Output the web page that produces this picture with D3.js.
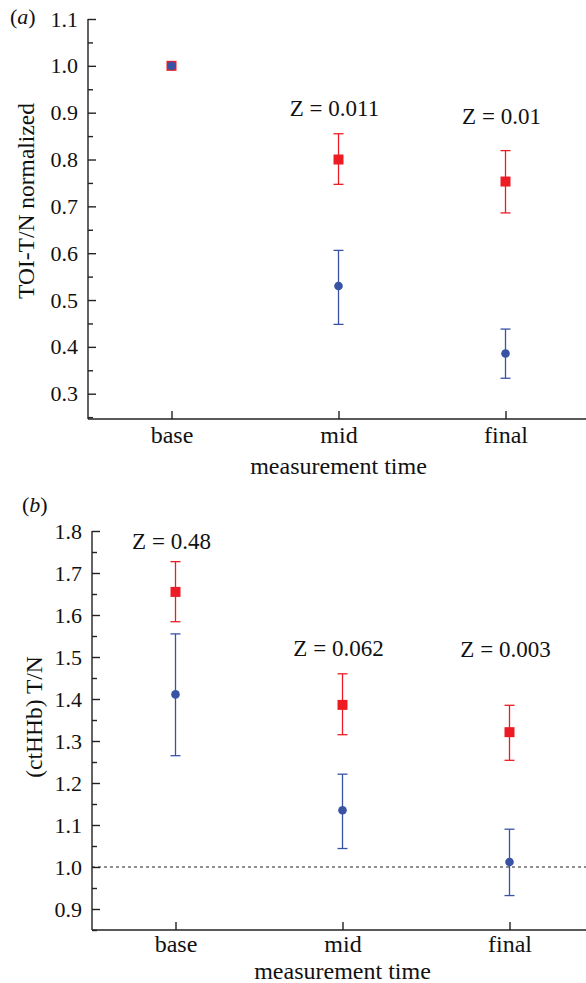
<!DOCTYPE html>
<html>
<head>
<meta charset="utf-8">
<script src="https://cdn.jsdelivr.net/npm/d3@7"></script>
<style>
  body { margin: 0; background: #fff; }
  text { font-family: "Liberation Serif", "Times New Roman", serif; fill: #111; }
</style>
</head>
<body>
<script>
var width = 586,
  height = 983

var categories = ['base', 'mid', 'final']

// panel (a): TOI-T/N normalized
var aRed = [1.0, 0.800, 0.753],
  aRedLo = [1.0, 0.747, 0.686],
  aRedHi = [1.0, 0.855, 0.819]
var aBlue = [1.0, 0.530, 0.386],
  aBlueLo = [1.0, 0.448, 0.333],
  aBlueHi = [1.0, 0.606, 0.438]
var aZ = ['', '0.011', '0.01'],
  aZAt = [null, 0.893, 0.876]
var aTicks = [0.3, 0.4, 0.5, 0.6, 0.7, 0.8, 0.9, 1.0, 1.1]

// panel (b): (ctHHb) T/N
var bRed = [1.655, 1.386, 1.321],
  bRedLo = [1.584, 1.315, 1.254],
  bRedHi = [1.727, 1.460, 1.385]
var bBlue = [1.411, 1.135, 1.012],
  bBlueLo = [1.265, 1.044, 0.932],
  bBlueHi = [1.555, 1.221, 1.090]
var bZ = ['0.48', '0.062', '0.003'],
  bZAt = [1.758, 1.503, 1.499]
var bTicks = [0.9, 1.0, 1.1, 1.2, 1.3, 1.4, 1.5, 1.6, 1.7, 1.8]

var red = '#ed1c24',
  blue = '#3953a4'

var svg = d3.select('body').append('svg')
  .attr('width', width)
  .attr('height', height)

function panel (o) {
  var x = d3.scaleLinear().domain([0.5, 3.5]).range([o.left, o.left + 501])
  var y = d3.scaleLinear().domain(o.domain).range([o.bottom, o.top])
  var g = svg.append('g')

  // minor ticks (inside)
  var minor = d3.range(o.domain[0], o.domain[1] + 1e-9, 0.05)
    .map(function (v) { return Math.round(v * 100) / 100 })
    .filter(function (v) { return v >= o.domain[0] && Math.round(v * 100) % 10 !== 0 })
  g.append('g').attr('transform', 'translate(' + o.left + ',0)')
    .call(d3.axisRight(y).tickValues(minor).tickSize(5).tickFormat(''))
    .call(function (s) { s.select('.domain').remove() })

  var yAxis = g.append('g').attr('transform', 'translate(' + o.left + ',0)')
    .call(d3.axisLeft(y).tickValues(o.ticks).tickSize(-8).tickPadding(10).tickFormat(d3.format('.1f')))
  yAxis.select('.domain').attr('d', 'M0,' + o.top + 'V' + o.bottom)
  yAxis.selectAll('.tick text').style('font-size', '22px')

  var xAxis = g.append('g').attr('transform', 'translate(0,' + o.bottom + ')')
    .call(d3.axisBottom(x).tickValues([1, 2, 3]).tickSize(-8)
      .tickFormat(function (d) { return categories[d - 1] }))
  xAxis.select('.domain').attr('d', 'M' + o.left + ',0H' + width)
  xAxis.selectAll('.tick text').style('font-size', '24px')
    .attr('y', o.tickBase).attr('dy', null)

  g.selectAll('.domain, .tick line').attr('stroke', '#222').attr('stroke-width', 1.4)
  g.selectAll('.tick text').attr('fill', '#111')
    .style('font-family', '"Liberation Serif", serif')

  if (o.refLine != null) {
    g.append('line')
      .attr('x1', o.left).attr('x2', width)
      .attr('y1', y(o.refLine)).attr('y2', y(o.refLine))
      .attr('stroke', '#222').attr('stroke-width', 1).attr('stroke-dasharray', '3,3')
  }

  g.append('text')
    .attr('x', x(2)).attr('y', o.bottom + o.titleBase)
    .attr('text-anchor', 'middle').style('font-size', '24px')
    .text('measurement time')

  g.append('text')
    .attr('transform', 'translate(' + o.titleX + ',' + o.titleY + ') rotate(-90)')
    .attr('text-anchor', 'middle').style('font-size', '23.5px')
    .text(o.title)

  g.append('text')
    .attr('x', o.tagX).attr('y', o.tagY).style('font-size', '22px')
    .html('(<tspan font-style="italic">' + o.tag + '</tspan>)')

  function errBars (mean, lo, hi, col) {
    var eb = g.append('g').selectAll('g')
      .data(categories.map(function (c, i) { return {i: i, m: mean[i], lo: lo[i], hi: hi[i]} })
        .filter(function (d) { return d.hi > d.lo }))
      .enter().append('g')
      .attr('stroke', col).attr('stroke-width', 1.3)
    eb.append('line')
      .attr('x1', function (d) { return x(d.i + 1) }).attr('x2', function (d) { return x(d.i + 1) })
      .attr('y1', function (d) { return y(d.lo) }).attr('y2', function (d) { return y(d.hi) })
    eb.append('line')
      .attr('x1', function (d) { return x(d.i + 1) - 5 }).attr('x2', function (d) { return x(d.i + 1) + 5 })
      .attr('y1', function (d) { return y(d.lo) }).attr('y2', function (d) { return y(d.lo) })
    eb.append('line')
      .attr('x1', function (d) { return x(d.i + 1) - 5 }).attr('x2', function (d) { return x(d.i + 1) + 5 })
      .attr('y1', function (d) { return y(d.hi) }).attr('y2', function (d) { return y(d.hi) })
  }

  errBars(o.blue, o.blueLo, o.blueHi, blue)
  errBars(o.red, o.redLo, o.redHi, red)

  g.selectAll('rect.sq').data(o.red).enter().append('rect')
    .attr('class', 'sq')
    .attr('x', function (d, i) { return x(i + 1) - 5 })
    .attr('y', function (d) { return y(d) - 5 })
    .attr('width', 10).attr('height', 10)
    .attr('fill', red)

  g.selectAll('circle.dot').data(o.blue).enter().append('circle')
    .attr('class', 'dot')
    .attr('cx', function (d, i) { return x(i + 1) })
    .attr('cy', function (d) { return y(d) })
    .attr('r', 4.3)
    .attr('fill', blue)

  g.selectAll('text.z')
    .data(o.z.map(function (t, i) { return {t: t, i: i, at: o.zAt[i]} }).filter(function (d) { return d.t }))
    .enter().append('text')
    .attr('class', 'z')
    .attr('x', function (d) { return x(d.i + 1) - 4 })
    .attr('y', function (d) { return y(d.at) })
    .attr('text-anchor', 'middle')
    .style('font-size', '23px')
    .text(function (d) { return 'Z = ' + d.t })
}

panel({
  left: 88, top: 19, bottom: 419, domain: [0.246, 1.1], ticks: aTicks,
  red: aRed, redLo: aRedLo, redHi: aRedHi,
  blue: aBlue, blueLo: aBlueLo, blueHi: aBlueHi,
  z: aZ, zAt: aZAt, tickBase: 24, titleBase: 55,
  title: 'TOI-T/N normalized', titleX: 34, titleY: 201,
  tag: 'a', tagX: 10, tagY: 24, refLine: null
})

panel({
  left: 92, top: 531, bottom: 930, domain: [0.85, 1.8], ticks: bTicks,
  red: bRed, redLo: bRedLo, redHi: bRedHi,
  blue: bBlue, blueLo: bBlueLo, blueHi: bBlueHi,
  z: bZ, zAt: bZAt, tickBase: 22, titleBase: 49,
  title: '(ctHHb) T/N', titleX: 42, titleY: 717,
  tag: 'b', tagX: 22, tagY: 512, refLine: 1.0
})
</script>
</body>
</html>
